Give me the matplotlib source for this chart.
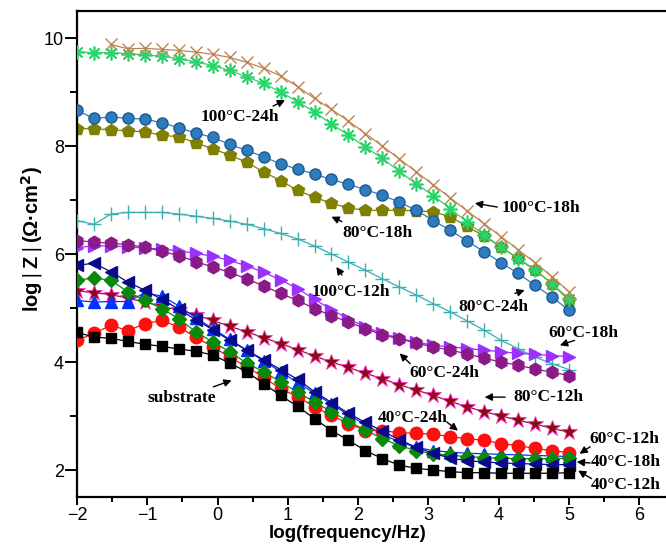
import numpy as np
import matplotlib
matplotlib.use('Agg')
import matplotlib.pyplot as plt

# log(frequency/Hz) grid used by every curve (30 points, -2 .. 5)
logf = np.linspace(-2, 5, 30)

# log|Z| values
substrate = [4.55, 4.46, 4.44, 4.38, 4.33, 4.29, 4.24, 4.20, 4.13, 3.98,
             3.82, 3.60, 3.38, 3.18, 2.95, 2.73, 2.55, 2.36, 2.21, 2.09,
             2.03, 2.00, 1.97, 1.95, 1.95, 1.94, 1.94, 1.94, 1.94, 1.95]
red_circ = [4.40, 4.53, 4.68, 4.58, 4.71, 4.77, 4.65, 4.46, 4.28, 4.09,
            3.91, 3.72, 3.50, 3.36, 3.17, 3.01, 2.86, 2.73, 2.73, 2.69,
            2.68, 2.66, 2.62, 2.58, 2.55, 2.49, 2.45, 2.40, 2.36, 2.32]
green_diam = [5.51, 5.56, 5.51, 5.30, 5.14, 4.99, 4.80, 4.56, 4.37, 4.19,
              3.98, 3.82, 3.63, 3.44, 3.26, 3.08, 2.90, 2.74, 2.58, 2.45,
              2.36, 2.30, 2.27, 2.25, 2.23, 2.22, 2.21, 2.21, 2.21, 2.22]
navy_tri = [5.79, 5.83, 5.67, 5.48, 5.33, 5.16, 4.98, 4.78, 4.60, 4.40,
            4.22, 4.04, 3.86, 3.68, 3.45, 3.25, 3.05, 2.88, 2.72, 2.56,
            2.42, 2.31, 2.22, 2.17, 2.15, 2.13, 2.12, 2.11, 2.10, 2.10]
blue_tri = [5.14, 5.11, 5.12, 5.12, 5.28, 5.22, 5.04, 4.82, 4.62, 4.42,
            4.22, 4.02, 3.82, 3.62, 3.42, 3.22, 3.02, 2.84, 2.66, 2.52,
            2.42, 2.36, 2.33, 2.31, 2.30, 2.29, 2.28, 2.27, 2.26, 2.25]
stars = [5.32, 5.28, 5.25, 5.18, 5.11, 5.03, 4.96, 4.87, 4.77, 4.66,
         4.56, 4.45, 4.34, 4.23, 4.11, 4.00, 3.90, 3.79, 3.69, 3.58,
         3.48, 3.38, 3.27, 3.17, 3.08, 3.00, 2.92, 2.85, 2.77, 2.70]
hexa = [6.25, 6.22, 6.20, 6.17, 6.13, 6.05, 5.97, 5.86, 5.76, 5.66,
        5.54, 5.41, 5.27, 5.14, 4.99, 4.86, 4.74, 4.62, 4.50, 4.43,
        4.35, 4.28, 4.22, 4.15, 4.07, 4.00, 3.94, 3.87, 3.81, 3.75]
violet = [6.12, 6.15, 6.15, 6.13, 6.11, 6.09, 6.06, 6.01, 5.96, 5.88,
          5.78, 5.66, 5.52, 5.36, 5.16, 4.97, 4.80, 4.65, 4.53, 4.44,
          4.37, 4.31, 4.28, 4.25, 4.22, 4.19, 4.16, 4.14, 4.12, 4.10]
teal = [6.62, 6.55, 6.74, 6.77, 6.77, 6.77, 6.74, 6.70, 6.66, 6.61,
        6.55, 6.47, 6.38, 6.28, 6.15, 6.00, 5.85, 5.70, 5.54, 5.39,
        5.24, 5.08, 4.93, 4.76, 4.59, 4.40, 4.25, 4.09, 3.97, 3.86]
olive = [8.32, 8.32, 8.30, 8.28, 8.26, 8.20, 8.17, 8.06, 7.95, 7.83,
         7.70, 7.52, 7.36, 7.18, 7.05, 6.94, 6.85, 6.81, 6.81, 6.81,
         6.80, 6.78, 6.69, 6.51, 6.33, 6.13, 5.92, 5.71, 5.45, 5.14]
spheres = [8.66, 8.51, 8.54, 8.51, 8.50, 8.43, 8.34, 8.24, 8.16, 8.03,
           7.92, 7.80, 7.67, 7.57, 7.48, 7.38, 7.29, 7.19, 7.09, 6.96,
           6.81, 6.62, 6.44, 6.24, 6.04, 5.84, 5.64, 5.42, 5.20, 4.96]
green_ast = [9.74, 9.73, 9.73, 9.71, 9.69, 9.66, 9.62, 9.56, 9.49, 9.40,
             9.28, 9.16, 9.00, 8.82, 8.63, 8.41, 8.20, 7.98, 7.77, 7.53,
             7.30, 7.08, 6.84, 6.59, 6.35, 6.13, 5.91, 5.70, 5.45, 5.17]
# brown curve starts at the third frequency point
brown_x = [9.88, 9.80, 9.81, 9.79, 9.77, 9.74, 9.70, 9.64, 9.55, 9.44,
           9.30, 9.10, 8.88, 8.68, 8.46, 8.23, 8.00, 7.76, 7.52, 7.28,
           7.04, 6.80, 6.56, 6.32, 6.08, 5.84, 5.58, 5.30]

# (text, text x, text y, arrow tail, arrow head) in data units
labels = [
    ('100°C-24h', 0.32, 8.53, (0.79, 8.74), (0.96, 8.85)),
    ('100°C-18h', 4.60, 6.86, (3.98, 6.87), (3.66, 6.94)),
    ('80°C-18h', 2.27, 6.38, (1.77, 6.60), (1.62, 6.69)),
    ('100°C-12h', 1.90, 5.29, (1.77, 5.61), (1.69, 5.76)),
    ('80°C-24h', 3.92, 5.01, (4.23, 5.27), (4.37, 5.33)),
    ('60°C-18h', 5.21, 4.53, (5.08, 4.40), (4.87, 4.31)),
    ('60°C-24h', 3.23, 3.79, (2.74, 3.97), (2.59, 4.16)),
    ('80°C-12h', 4.70, 3.35, (4.09, 3.35), (3.80, 3.35)),
    ('40°C-24h', 2.78, 2.96, (3.26, 2.89), (3.42, 2.73)),
    ('60°C-12h', 5.78, 2.57, (5.30, 2.43), (5.15, 2.30)),
    ('40°C-18h', 5.81, 2.14, (5.30, 2.13), (5.11, 2.15)),
    ('40°C-12h', 5.81, 1.73, (5.32, 1.84), (5.13, 1.99)),
    ('substrate', -0.51, 3.34, (-0.06, 3.54), (0.20, 3.66)),
]

fig = plt.figure(figsize=(6.66, 5.51), dpi=100)
ax = fig.add_axes([0.1156, 0.098, 0.8844, 0.882])

lw = 0.9
ax.plot(logf, olive, '-p', color='#7F7F00', ms=9, lw=lw, zorder=2)
ax.plot(logf, spheres, '-o', color='#2F7BBF', mec='#1D5A92', ms=8, lw=lw, zorder=3)
ax.plot(logf, green_ast, '-', color='#2BD46A', marker=(8, 2, 0), ms=10, mew=1.2,
        lw=lw, zorder=4)
ax.plot(logf[2:], brown_x, '-x', color='#BE8552', ms=9, mew=1.0, lw=lw, zorder=4)
ax.plot(logf, teal, '-+', color='#3AAFB0', ms=10, mew=1.0, lw=lw, zorder=3)
ax.plot(logf, violet, '->', color='#9B30FF', ms=9, lw=lw, zorder=3)
ax.plot(logf, hexa, '-h', color='#8B1A89', ms=9, lw=lw, zorder=3)
ax.plot(logf, stars, '-*', color='#8B1A3A', mfc='#8B0A14', mec='#FF33CC',
        mew=0.6, ms=12, lw=lw, zorder=3)
ax.plot(logf, blue_tri, '-^', color='#0033FF', ms=9, lw=lw, zorder=3)
ax.plot(logf, red_circ, '-o', color='#FF1010', ms=9, lw=lw, zorder=3)
ax.plot(logf, green_diam, '-D', color='#0A8A0A', ms=7, lw=lw, zorder=3)
ax.plot(logf, navy_tri, '-<', color='#0A0A8C', ms=9, lw=lw, zorder=3)
ax.plot(logf, substrate, '-s', color='black', ms=7, lw=lw, zorder=3)

for txt, tx, ty, tail, head in labels:
    ax.text(tx, ty, txt, ha='center', va='center', fontsize=12.5,
            fontweight='bold', family='Liberation Serif', zorder=6)
    ax.annotate('', xy=head, xytext=tail,
                arrowprops=dict(arrowstyle='-|>', color='black', lw=1.0,
                                mutation_scale=11, shrinkA=0, shrinkB=0),
                zorder=6)

ax.set_xlim(-2, 6.38)
ax.set_ylim(1.5, 10.5)
ax.set_xticks(np.arange(-2, 7, 1))
ax.set_xticks(np.arange(-1.5, 6.5, 1), minor=True)
ax.set_yticks([2, 4, 6, 8, 10])
ax.set_yticks([3, 5, 7, 9], minor=True)
ax.spines['right'].set_visible(False)
for s in ['left', 'bottom', 'top']:
    ax.spines[s].set_linewidth(1.6)

ax.tick_params(axis='both', which='both', direction='out', width=1.4,
               labelsize=13, top=False, right=False)
ax.tick_params(axis='x', which='major', length=6, pad=1)
ax.tick_params(axis='x', which='minor', length=3.6)
ax.tick_params(axis='y', which='major', length=8.5, pad=1)
ax.tick_params(axis='y', which='minor', length=4.8)
for lab in ax.get_xticklabels() + ax.get_yticklabels():
    lab.set_family('Liberation Sans')

ax.set_xlabel('log(frequency/Hz)', fontsize=13.5, fontweight='bold',
              family='Liberation Sans', va='top')
ax.xaxis.set_label_coords(0.459, -0.058)
ax.set_ylabel(r'log$\,|\,$Z$\,|\,$(Ω·cm$\mathbf{^2}$)', fontsize=14.5,
              fontweight='bold', family='Liberation Sans')
ax.yaxis.set_label_coords(-0.055, 0.53)

fig.savefig('out.png', dpi=100)
